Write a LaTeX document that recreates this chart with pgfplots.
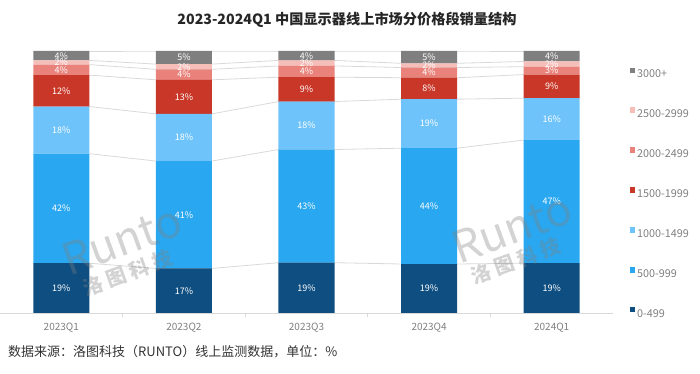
\documentclass[border=0pt]{standalone}
\usepackage{pgfplots}
\pgfplotsset{compat=1.18}
\usepackage{fontspec}
\setmainfont{Noto Sans CJK SC}
\definecolor{c0}{HTML}{0E4E80}
\definecolor{c1}{HTML}{29A7F0}
\definecolor{c2}{HTML}{6EC4FA}
\definecolor{c3}{HTML}{C83728}
\definecolor{c4}{HTML}{E8827A}
\definecolor{c5}{HTML}{F5BEB9}
\definecolor{c6}{HTML}{7F7F7F}
\definecolor{linegrey}{HTML}{D9D9D9}
\definecolor{txtgrey}{HTML}{7F7F7F}
\pgfplotsset{
  base/.style={
    at={(0pt,0pt)}, anchor=south west,
    scale only axis, width=613pt, height=262pt,
    xmin=-0.5, xmax=4.5, ymin=0, ymax=100,
    /pgf/number format/assume math mode=true,
  }
}
\begin{document}
\begin{tikzpicture}
% ---- background axis: x axis line, tick labels, series lines
\begin{axis}[base,
  axis x line*=bottom, axis y line=none,
  x axis line style={draw=linegrey, line width=0.8pt},
  xtick={0,1,2,3,4},
  xticklabels={2023Q1,2023Q2,2023Q3,2023Q4,2024Q1},
  major tick length=0pt,
  extra x ticks={0.5,1.5,2.5,3.5},
  extra x tick labels={},
  extra x tick style={major tick length=4pt, tick align=outside, tick style={draw=linegrey, line width=0.8pt}},
  xticklabel style={font=\fontsize{10}{12}\selectfont, text=txtgrey, yshift=-7pt},
]
\addplot[linegrey, line width=0.8pt] coordinates {(0.228,19) (0.772,17) (1.228,17) (1.772,19.2) (2.228,19.2) (2.772,18.7) (3.228,18.7) (3.772,19)};
\addplot[linegrey, line width=0.8pt] coordinates {(0.228,60.8) (0.772,58) (1.228,58) (1.772,62.4) (2.228,62.4) (2.772,62.9) (3.228,62.9) (3.772,66)};
\addplot[linegrey, line width=0.8pt] coordinates {(0.228,78.8) (0.772,76) (1.228,76) (1.772,80.7) (2.228,80.7) (2.772,81.6) (3.228,81.6) (3.772,82)};
\addplot[linegrey, line width=0.8pt] coordinates {(0.228,90.8) (0.772,89) (1.228,89) (1.772,90.0) (2.228,90.0) (2.772,89.8) (3.228,89.8) (3.772,91)};
\addplot[linegrey, line width=0.8pt] coordinates {(0.228,94.8) (0.772,93) (1.228,93) (1.772,94.3) (2.228,94.3) (2.772,93.7) (3.228,93.7) (3.772,94)};
\addplot[linegrey, line width=0.8pt] coordinates {(0.228,96.4) (0.772,95) (1.228,95) (1.772,96.4) (2.228,96.4) (2.772,95.3) (3.228,95.3) (3.772,96)};
\addplot[linegrey, line width=0.8pt] coordinates {(0.228,100) (0.772,100) (1.228,100) (1.772,100) (2.228,100) (2.772,100) (3.228,100) (3.772,100)};
\end{axis}
% ---- bars
\begin{axis}[base, hide axis,
  ybar stacked, bar width=0.457,
  reverse legend,
  legend cell align=left,
  legend image code/.code={\fill[#1, draw=none] (0pt,1pt) rectangle (5.5pt,6.5pt);},
  legend style={at={(1.027,0.937)}, anchor=north west, draw=none, fill=none,
    inner sep=0pt, outer sep=0pt, row sep=29.3pt,
    font=\fontsize{10.8}{12}\selectfont, text=txtgrey,
    nodes={inner sep=0pt, text height=7.7pt, text depth=0.5pt},
    /tikz/every odd column/.append style={column sep=2pt}},
]
\addplot[fill=c0, draw=none] coordinates {(0,19) (1,17) (2,19.2) (3,18.7) (4,19)};
\addlegendentry{0-499}
\addplot[fill=c1, draw=none] coordinates {(0,41.8) (1,41) (2,43.2) (3,44.2) (4,47)};
\addlegendentry{500-999}
\addplot[fill=c2, draw=none] coordinates {(0,18) (1,18) (2,18.3) (3,18.7) (4,16)};
\addlegendentry{1000-1499}
\addplot[fill=c3, draw=none] coordinates {(0,12) (1,13) (2,9.3) (3,8.2) (4,9)};
\addlegendentry{1500-1999}
\addplot[fill=c4, draw=none] coordinates {(0,4) (1,4) (2,4.3) (3,3.9) (4,3)};
\addlegendentry{2000-2499}
\addplot[fill=c5, draw=none] coordinates {(0,1.6) (1,2) (2,2.1) (3,1.6) (4,2)};
\addlegendentry{2500-2999}
\addplot[fill=c6, draw=none] coordinates {(0,3.6) (1,5) (2,3.6) (3,4.7) (4,4)};
\addlegendentry{3000+}
\end{axis}
% ---- labels
\begin{axis}[base, hide axis]
\addplot[only marks, mark=*, mark size=0pt, mark options={draw=none, fill=none},
  point meta=explicit,
  nodes near coords={\pgfmathprintnumber[fixed,precision=0]{\pgfplotspointmeta}\%},
  nodes near coords align={center},
  every node near coord/.append style={font=\fontsize{9}{10}\selectfont, text=white, inner sep=0pt}]
table[x=x, y=y, meta=v] {
x y v
0 9.5 19
1 8.5 17
2 9.6 19.2
3 9.35 18.7
4 9.5 19
0 39.9 41.8
1 37.5 41
2 40.8 43.2
3 40.8 44.2
4 42.5 47
0 69.8 18
1 67 18
2 71.55 18.3
3 72.25 18.7
4 74 16
0 84.8 12
1 82.5 13
2 85.35 9.3
3 85.7 8.2
4 86.5 9
0 92.8 4
1 91 4
2 92.15 4.3
3 91.75 3.9
4 92.5 3
0 95.6 1.6
1 94 2
2 95.35 2.1
3 94.5 1.6
4 95 2
0 98.2 3.6
1 97.5 5
2 98.2 3.6
3 97.65 4.7
4 98 4
};
\end{axis}
% ---- watermark
\node[rotate=20, text=gray, opacity=0.35, font=\fontsize{44}{44}\selectfont] at (122pt,73pt) {Runto};
\node[rotate=20, text=gray, opacity=0.35, font=\bfseries\fontsize{20}{20}\selectfont] at (128pt,40pt) {洛 图 科 技};
\node[rotate=20, text=gray, opacity=0.35, font=\fontsize{44}{44}\selectfont] at (512pt,85pt) {Runto};
\node[rotate=20, text=gray, opacity=0.35, font=\bfseries\fontsize{20}{20}\selectfont] at (516pt,52pt) {洛 图 科 技};
% ---- title and footer
\node[font=\bfseries\fontsize{14.2}{16}\selectfont, text=black!85] at (347pt,293pt) {2023-2024Q1 中国显示器线上市场分价格段销量结构};
\node[anchor=west, inner sep=0pt, font=\fontsize{13}{15}\selectfont, text=black!80] at (8pt,-39pt) {数据来源：洛图科技（RUNTO）线上监测数据，单位：\%};
\pgfresetboundingbox
\path[use as bounding box] (0pt,-61pt) rectangle (700pt,313pt);
\end{tikzpicture}
\end{document}
